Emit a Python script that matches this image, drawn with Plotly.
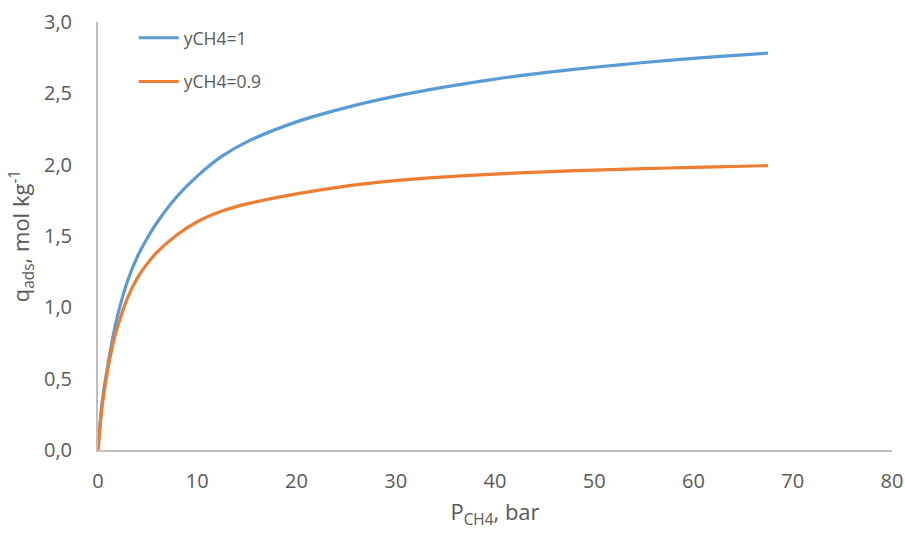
import plotly.graph_objects as go

# Data
pressure = [0, 0.25, 0.5, 1, 1.5, 2, 3, 4, 5, 6, 8, 10, 12.5, 15, 20, 25, 30,
            35, 40, 45, 50, 55, 60, 65, 67.5]
q_y1 = [0, 0.22, 0.38, 0.60, 0.79, 0.95, 1.19, 1.36, 1.49, 1.60, 1.78, 1.92,
        2.06, 2.16, 2.30, 2.40, 2.48, 2.545, 2.60, 2.645, 2.683, 2.716, 2.745,
        2.77, 2.782]
q_y09 = [0, 0.20, 0.35, 0.57, 0.74, 0.87, 1.07, 1.21, 1.31, 1.39, 1.51, 1.60,
         1.675, 1.725, 1.795, 1.85, 1.888, 1.914, 1.934, 1.95, 1.962, 1.972, 1.981,
         1.989, 1.993]
series_names = ["yCH4=1", "yCH4=0.9"]
x_ticks = [0, 10, 20, 30, 40, 50, 60, 70, 80]
y_ticks = [0, 0.5, 1.0, 1.5, 2.0, 2.5, 3.0]
y_tick_labels = ["0,0", "0,5", "1,0", "1,5", "2,0", "2,5", "3,0"]

FONT = "Open Sans"
GREY = "#595959"

fig = go.Figure()
fig.add_trace(go.Scatter(x=pressure, y=q_y1, mode="lines", name=series_names[0],
                         line=dict(color="#5B9BD5", width=3.2, shape="spline",
                                   smoothing=0.8),
                         legendgroup="a"))
fig.add_trace(go.Scatter(x=pressure, y=q_y09, mode="lines", name=series_names[1],
                         line=dict(color="#ED7D31", width=3.2, shape="spline",
                                   smoothing=0.8),
                         legendgroup="b"))

fig.update_layout(
    width=905, height=533,
    margin=dict(l=98, r=13, t=22, b=83),
    paper_bgcolor="white", plot_bgcolor="white",
    font=dict(family=FONT, color=GREY, size=17),
    showlegend=True,
    legend=dict(x=0.045, y=1.005, xanchor="left", yanchor="top",
                font=dict(family=FONT, size=17.5, color=GREY),
                bgcolor="rgba(0,0,0,0)", traceorder="grouped",
                tracegroupgap=18, itemwidth=40),
)
fig.update_xaxes(range=[0, 80], tickvals=x_ticks, showgrid=False, zeroline=False,
                 showline=True, linecolor="#BFBFBF", linewidth=2, ticks="",
                 automargin=False,
                 ticklabelstandoff=12, tickfont=dict(size=20, color=GREY),
                 title=dict(text="P<sub>CH4</sub>, bar", font=dict(size=22, color=GREY),
                            standoff=12))
fig.update_yaxes(range=[0, 3.0], tickvals=y_ticks, ticktext=y_tick_labels,
                 showgrid=False, zeroline=False, automargin=False,
                 showline=True, linecolor="#BFBFBF", linewidth=2, ticks="",
                 ticklabelstandoff=20, tickfont=dict(size=20, color=GREY),
                 title=dict(text="q<sub>ads</sub>, mol kg<sup>-1</sup>",
                            font=dict(size=22, color=GREY), standoff=8))

fig.write_html("out.html")
